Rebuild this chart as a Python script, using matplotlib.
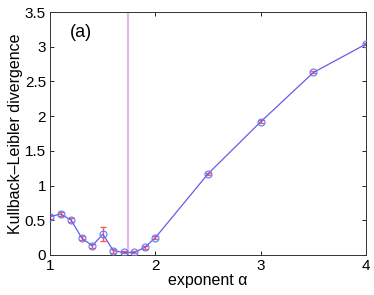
import matplotlib
matplotlib.use("Agg")
import matplotlib.pyplot as plt

alpha = [1.0, 1.1, 1.2, 1.3, 1.4, 1.5, 1.6, 1.7, 1.8, 1.9, 2.0, 2.5, 3.0, 3.5, 4.0]
kl = [0.55, 0.59, 0.50, 0.245, 0.13, 0.30, 0.06, 0.035, 0.035, 0.11, 0.25, 1.17, 1.92, 2.63, 3.04]
err = [0.03, 0.03, 0.03, 0.025, 0.025, 0.10, 0.03, 0.015, 0.015, 0.02, 0.02, 0.015, 0.02, 0.015, 0.01]
vline_x = 1.74
xticks = [1, 2, 3, 4]
yticks = [0, 0.5, 1, 1.5, 2, 2.5, 3, 3.5]
ytick_labels = ["0", "0.5", "1", "1.5", "2", "2.5", "3", "3.5"]

plt.rcParams['font.family'] = ['Liberation Sans', 'DejaVu Sans']
fig = plt.figure(figsize=(3.74, 2.95), dpi=100)
ax = fig.add_axes([0.134, 0.136, 0.845, 0.823])

ax.axvline(vline_x, color='#e4b4f4', lw=1.6, zorder=1)
ax.errorbar(alpha, kl, yerr=err, fmt='none', ecolor='#ff5a5a', elinewidth=1.0,
            capsize=2.5, capthick=1.0, zorder=2)
ax.plot(alpha, kl, '-', color='#6a5ae8', lw=0.9, zorder=3)
ax.plot(alpha, kl, 'o', mfc='none', mec='#5a7af8', ms=5, mew=0.8, zorder=4)

ax.set_xlim(1, 4)
ax.set_ylim(0, 3.5)
ax.set_xticks(xticks)
ax.set_xticklabels([str(t) for t in xticks])
ax.set_yticks(yticks)
ax.set_yticklabels(ytick_labels)
ax.tick_params(direction='in', top=True, right=True, labelsize=11, length=3, width=0.6, pad=3)
for s in ax.spines.values():
    s.set_linewidth(0.7)
    s.set_color('#333333')

ax.set_xlabel('exponent α', fontsize=11.5, labelpad=0)
ax.set_ylabel('Kullback–Leibler divergence', fontsize=11.5, labelpad=1)
ax.text(1.19, 3.2, '(a)', fontsize=13, ha='left', va='center')

fig.savefig('out.png', dpi=100)
